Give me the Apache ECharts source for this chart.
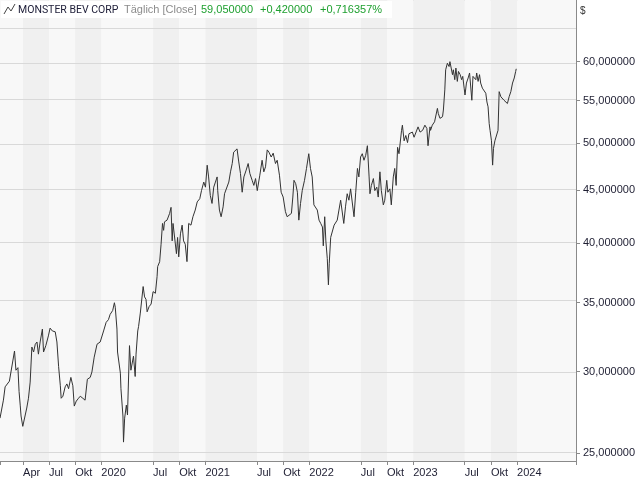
<!DOCTYPE html>
<html><head><meta charset="utf-8">
<script src="https://cdn.jsdelivr.net/npm/echarts@6/dist/echarts.min.js"></script>
<style>html,body{margin:0;padding:0;background:#fff}#c{width:640px;height:480px}</style>
</head><body><div id="c"></div>
<script>
const dates = [
'2019-01-10','2019-01-22','2019-01-28','2019-02-12','2019-02-18','2019-03-02','2019-03-07','2019-03-14','2019-03-18','2019-03-22',
'2019-03-25','2019-03-31','2019-04-05','2019-04-14','2019-04-20','2019-04-26','2019-05-02','2019-05-08','2019-05-14','2019-05-20',
'2019-05-25','2019-05-31','2019-06-08','2019-06-12','2019-06-20','2019-06-29','2019-07-05','2019-07-13','2019-07-23','2019-07-29',
'2019-08-04','2019-08-10','2019-08-13','2019-08-19','2019-08-27','2019-09-02','2019-09-08','2019-09-16','2019-09-23','2019-09-28',
'2019-10-05','2019-10-13','2019-10-19','2019-10-28','2019-11-05','2019-11-13','2019-11-23','2019-11-29','2019-12-07','2019-12-17',
'2019-12-28','2020-01-03','2020-01-09','2020-01-18','2020-01-26','2020-02-01','2020-02-10','2020-02-16','2020-02-19','2020-02-25',
'2020-02-27','2020-03-08','2020-03-10','2020-03-17','2020-03-19','2020-03-23','2020-03-29','2020-04-02','2020-04-09','2020-04-14',
'2020-04-23','2020-04-29','2020-05-02','2020-05-08','2020-05-11','2020-05-17','2020-05-27','2020-06-01','2020-06-06','2020-06-10',
'2020-06-17','2020-06-24','2020-07-01','2020-07-09','2020-07-15','2020-07-17','2020-07-24','2020-07-29','2020-08-03','2020-08-07',
'2020-08-10','2020-08-19','2020-08-28','2020-09-02','2020-09-06','2020-09-09','2020-09-21','2020-09-25','2020-09-29','2020-10-05',
'2020-10-11','2020-10-16','2020-10-22','2020-10-28','2020-11-03','2020-11-11','2020-11-18','2020-11-26','2020-12-03','2020-12-12',
'2020-12-18','2020-12-26','2021-01-01','2021-01-07','2021-01-12','2021-01-18','2021-01-24','2021-01-30','2021-02-05','2021-02-11',
'2021-02-13','2021-02-19','2021-02-25','2021-03-04','2021-03-09','2021-03-16','2021-03-24','2021-03-30','2021-04-05','2021-04-10',
'2021-04-16','2021-04-22','2021-04-28','2021-05-04','2021-05-10','2021-05-16','2021-05-24','2021-05-31','2021-06-06','2021-06-14',
'2021-06-20','2021-06-26','2021-07-02','2021-07-11','2021-07-19','2021-07-25','2021-07-31','2021-08-06','2021-08-12','2021-08-20',
'2021-08-27','2021-09-04','2021-09-10','2021-09-18','2021-09-24','2021-10-01','2021-10-09','2021-10-15','2021-10-21','2021-10-30',
'2021-11-04','2021-11-08','2021-11-14','2021-11-20','2021-11-25','2021-12-01','2021-12-07','2021-12-15','2021-12-22','2021-12-30',
'2022-01-05','2022-01-11','2022-01-17','2022-01-29','2022-02-04','2022-02-10','2022-02-16','2022-02-19','2022-02-24','2022-02-28',
'2022-03-05','2022-03-09','2022-03-12','2022-03-17','2022-03-23','2022-03-29','2022-04-09','2022-04-15','2022-04-21','2022-05-02',
'2022-05-08','2022-05-14','2022-05-20','2022-05-26','2022-06-01','2022-06-07','2022-06-13','2022-06-19','2022-06-24','2022-06-30',
'2022-07-06','2022-07-12','2022-07-18','2022-07-24','2022-07-30','2022-08-02','2022-08-07','2022-08-14','2022-08-19','2022-08-26',
'2022-08-31','2022-09-06','2022-09-11','2022-09-18','2022-09-23','2022-09-30','2022-10-04','2022-10-11','2022-10-16','2022-10-23',
'2022-10-28','2022-11-02','2022-11-07','2022-11-12','2022-11-21','2022-11-24','2022-11-30','2022-12-06','2022-12-12','2022-12-17',
'2022-12-29','2023-01-04','2023-01-18','2023-01-25','2023-02-03','2023-02-11','2023-02-18','2023-02-22','2023-03-01','2023-03-03',
'2023-03-09','2023-03-17','2023-03-24','2023-03-27','2023-03-30','2023-04-05','2023-04-14','2023-04-17','2023-04-22','2023-04-25',
'2023-05-01','2023-05-07','2023-05-10','2023-05-15','2023-05-19','2023-05-22','2023-05-27','2023-05-31','2023-06-05','2023-06-09',
'2023-06-15','2023-06-20','2023-06-24','2023-06-29','2023-07-02','2023-07-07','2023-07-13','2023-07-18','2023-07-23','2023-07-26',
'2023-07-30','2023-08-03','2023-08-09','2023-08-12','2023-08-17','2023-08-22','2023-08-26','2023-09-01','2023-09-07','2023-09-13',
'2023-09-17','2023-09-21','2023-09-25','2023-09-28','2023-10-03','2023-10-07','2023-10-10','2023-10-15','2023-10-22','2023-10-26',
'2023-10-30','2023-11-05','2023-11-11','2023-11-16','2023-11-22','2023-11-28','2023-12-04','2023-12-10','2023-12-16','2023-12-22',
'2023-12-27','2023-12-29'];
const closes = [
27.04,28.15,29.00,29.37,29.50,31.42,30.10,30.27,28.70,27.84,
27.17,26.55,26.55,27.66,28.27,29.31,31.70,31.35,31.90,32.06,
31.20,32.06,33.00,31.35,31.80,32.50,33.07,32.86,32.80,32.06,
30.34,29.07,28.27,28.40,29.00,29.19,28.88,29.62,29.07,27.78,
28.09,28.27,28.40,28.27,28.15,29.50,29.62,29.98,30.99,31.90,
32.06,32.13,32.86,33.50,33.70,34.10,34.40,35.00,34.65,33.00,
31.35,29.90,28.88,27.17,25.63,27.04,27.84,27.23,31.80,30.10,
31.06,29.68,31.20,32.86,33.20,34.20,36.29,35.46,35.27,34.30,
34.70,34.90,35.88,35.75,37.12,37.95,38.36,39.89,41.79,41.15,
41.94,42.10,42.74,43.32,40.19,41.79,39.06,40.50,38.78,40.83,
41.63,40.19,39.89,38.37,41.79,41.63,42.42,43.06,43.85,44.17,
44.97,45.84,45.32,47.60,46.37,44.49,43.70,45.32,45.84,46.37,
44.97,43.06,42.42,43.37,44.66,44.81,45.84,46.90,47.78,49.01,
48.84,49.37,47.95,46.73,44.81,46.37,47.08,47.78,46.73,46.02,
45.50,46.20,44.97,46.55,48.13,46.90,47.43,49.26,49.01,48.48,
48.90,47.78,48.13,46.55,44.81,44.33,42.90,42.42,42.26,42.74,
44.33,46.02,45.68,44.81,42.10,43.70,44.97,46.02,47.26,48.84,
47.26,46.37,43.56,43.06,42.10,41.79,41.46,39.75,42.42,40.19,
38.65,36.43,38.23,40.51,40.67,41.63,42.10,43.06,44.02,41.79,
43.37,44.66,44.02,45.15,45.32,42.42,44.81,47.26,46.37,48.48,
48.84,48.13,48.66,49.72,46.37,44.66,45.50,46.20,44.97,45.32,
44.33,46.90,44.97,43.56,44.02,46.02,44.81,45.15,43.56,46.37,
47.26,45.50,49.54,48.84,51.46,52.06,50.27,50.87,50.07,51.07,
51.26,50.67,51.86,51.26,51.46,52.06,51.67,49.72,51.86,51.46,
52.06,52.45,52.65,54.05,53.45,52.86,53.05,53.85,56.33,58.92,
59.79,59.35,60.00,59.79,58.28,58.92,57.63,59.15,57.41,58.70,
58.28,57.63,58.06,56.55,55.69,57.20,57.85,58.50,58.28,55.04,
58.06,58.28,57.63,58.50,57.41,58.28,57.20,56.55,56.76,55.91,
54.83,54.24,52.24,51.46,50.27,47.61,49.42,50.27,50.07,51.46,
56.11,55.47,55.26,55.04,54.83,54.64,55.47,56.11,57.20,57.85,
58.70,59.05];
const xTickDates = ['2019-04-01','2019-07-01','2019-10-01','2020-01-01','2020-07-01','2020-10-01','2021-01-01','2021-07-01','2021-10-01','2022-01-01','2022-07-01','2022-10-01','2023-01-01','2023-07-01','2023-10-01','2024-01-01'];
const xTickLabels = ['Apr','Jul','Okt','2020','Jul','Okt','2021','Jul','Okt','2022','Jul','Okt','2023','Jul','Okt','2024'];
const yTickValues = [25,30,35,40,45,50,55,60];
const yGridValues = [25,30,35,40,45,50,55,60,65];
const xStart = '2019-01-10', xEnd = '2024-07-26';
const yMin = 24.57, yMax = 68.87;

const T = s => echarts.time.parse(s).getTime();
const xTickTimes = xTickDates.map(T);
const tMin = T(xStart), tMax = T(xEnd);
const FONT = "'Liberation Sans', Arial, sans-serif";
const TXT = '#1e1e32';

const chart = echarts.init(document.getElementById('c'), null, {renderer: 'canvas'});
chart.setOption({
  animation: false,
  backgroundColor: '#ffffff',
  grid: {left: 0, top: 0, right: 64, bottom: 19, show: true, borderColor: '#8a8a8a', borderWidth: 1, backgroundColor: '#f8f8f8'},
  xAxis: {
    type: 'value', min: tMin, max: tMax, scale: true,
    axisLine: {show: true, lineStyle: {color: '#8a8a8a', width: 1}},
    axisTick: {show: true, length: 4, customValues: [tMin].concat(xTickTimes, [tMax]), lineStyle: {color: '#8a8a8a'}},
    axisLabel: {customValues: xTickTimes, align: 'left', margin: 6, color: TXT, fontSize: 11, fontFamily: FONT,
      formatter: v => { const i = xTickTimes.indexOf(v); return i >= 0 ? xTickLabels[i] : ''; }},
    splitLine: {show: false},
    splitArea: {show: true, areaStyle: {color: ['#f8f8f8', '#f0f0f0']}}
  },
  yAxis: {
    type: 'value', position: 'right', min: Math.log(yMin), max: Math.log(yMax),
    axisLine: {show: true, lineStyle: {color: '#8a8a8a', width: 1}},
    axisTick: {show: true, length: 4, customValues: yTickValues.map(Math.log), lineStyle: {color: '#8a8a8a'}},
    axisLabel: {customValues: yTickValues.map(Math.log), margin: 7, color: TXT, fontSize: 11, fontFamily: FONT,
      formatter: v => Math.exp(v).toFixed(6).replace('.', ',')},
    splitLine: {show: false}
  },
  series: [{
    type: 'line', showSymbol: false, symbol: 'none', z: 5,
    data: dates.map((d, i) => [T(d), Math.log(closes[i])]),
    lineStyle: {color: '#333333', width: 1},
    markLine: {silent: true, symbol: 'none', label: {show: false}, z: 1,
      lineStyle: {color: '#d9d9d9', width: 1, type: 'solid'},
      data: yGridValues.map(v => ({yAxis: Math.log(v)}))}
  }],
  graphic: [
    {type: 'rect', z: 100, shape: {x: 1, y: 1, width: 391, height: 17}, style: {fill: '#ffffff'}},
    {type: 'polyline', z: 101, shape: {points: [[4, 14], [8, 7], [11, 11], [15, 4]]}, style: {stroke: '#444', lineWidth: 1, fill: null}},
    {type: 'text', z: 101, x: 18, y: 10, style: {text: 'MONSTER BEV CORP', font: "10.5px Roboto, sans-serif", fill: '#22223c', verticalAlign: 'middle'}},
    {type: 'text', z: 101, x: 124, y: 10, style: {text: 'Täglich [Close]', font: "11px 'Liberation Sans', sans-serif", fill: '#8c8c8c', verticalAlign: 'middle'}},
    {type: 'text', z: 101, x: 201, y: 10, style: {text: '59,050000', font: "11px 'Liberation Sans', sans-serif", fill: '#1fa030', verticalAlign: 'middle'}},
    {type: 'text', z: 101, x: 260, y: 10, style: {text: '+0,420000', font: "11px 'Liberation Sans', sans-serif", fill: '#1fa030', verticalAlign: 'middle'}},
    {type: 'text', z: 101, x: 320, y: 10, style: {text: '+0,716357%', font: "11px 'Liberation Sans', sans-serif", fill: '#1fa030', verticalAlign: 'middle'}},
    {type: 'text', z: 101, x: 580, y: 11, style: {text: '$', font: "10px 'Liberation Sans', sans-serif", fill: '#333', verticalAlign: 'middle'}}
  ]
});
</script></body></html>
